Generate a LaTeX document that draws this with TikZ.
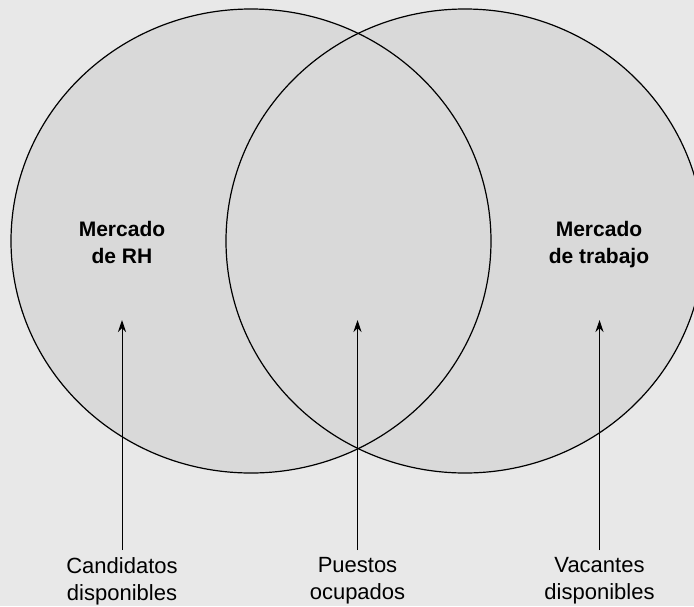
\documentclass[tikz,border=0pt]{standalone}
\usepackage{fontspec}
\setmainfont{Liberation Sans}
\usetikzlibrary{arrows.meta}
\definecolor{bg}{HTML}{E8E8E8}
\definecolor{fillc}{HTML}{D9D9D9}
\tikzset{
  setfill/.style={fill=fillc},
  setline/.style={draw=black,line width=1.2pt},
  title/.style={align=center,inner sep=0pt,font=\fontsize{21}{27}\selectfont\bfseries},
  label/.style={align=center,inner sep=0pt,font=\fontsize{22}{27}\selectfont},
  arrowline/.style={line width=1pt,-{Stealth[length=12pt,width=8pt]},shorten <=7pt}
}
\begin{document}
\begin{tikzpicture}[x=1pt,y=-1pt]
\useasboundingbox[fill=bg] (0,0) rectangle (694,606);
\begin{scope}
\clip (0,0) rectangle (694,606);
\fill[setfill] (251,241) ellipse [x radius=240, y radius=232];
\fill[setfill] (465,241) ellipse [x radius=239, y radius=232];
\draw[setline] (251,241) ellipse [x radius=240, y radius=232];
\draw[setline] (465,241) ellipse [x radius=239, y radius=232];
\end{scope}
\node[title,anchor=north] (m1) at (122,221) {Mercado\\de RH};
\node[title,anchor=north] (m2) at (599,221) {Mercado\\de trabajo};
\coordinate (t1) at (122,320);
\coordinate (t2) at (357.5,320);
\coordinate (t3) at (599.5,320);
\node[label,anchor=north] (c1) at (122,557) {Candidatos\\disponibles};
\node[label,anchor=north] (c2) at (357.5,557) {Puestos\\ocupados};
\node[label,anchor=north] (c3) at (599.5,557) {Vacantes\\disponibles};
\draw[arrowline] (c1.north) -- (t1);
\draw[arrowline] (c2.north) -- (t2);
\draw[arrowline] (c3.north) -- (t3);
\end{tikzpicture}
\end{document}
